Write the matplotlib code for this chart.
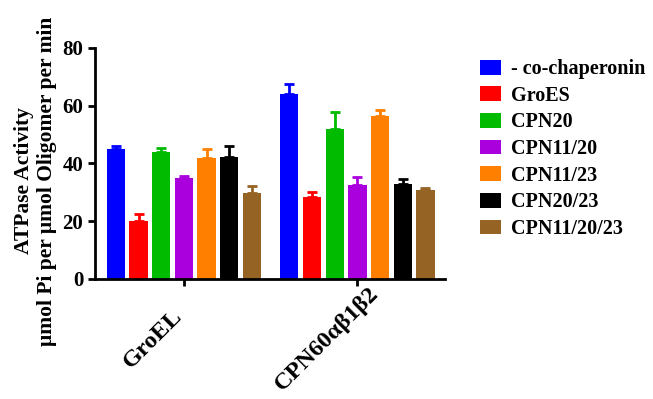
import matplotlib
matplotlib.use("Agg")
import matplotlib.pyplot as plt
import matplotlib.transforms as mtransforms
import numpy as np

plt.rcParams['font.family'] = ['Liberation Serif', 'DejaVu Serif']
plt.rcParams['font.weight'] = 'bold'
plt.rcParams['axes.labelweight'] = 'bold'

groups = ['GroEL', 'CPN60αβ1β2']
series = ['- co-chaperonin', 'GroES', 'CPN20', 'CPN11/20', 'CPN11/23', 'CPN20/23', 'CPN11/20/23']
colors = ['#0000ff', '#ff0000', '#00bb00', '#aa00dd', '#ff8000', '#000000', '#956323']
groel = [44.9, 20.1, 44.0, 35.1, 41.8, 42.2, 29.7]
groel_err = [1.1, 2.3, 1.2, 0.4, 3.2, 3.9, 2.4]
cpn60 = [64.2, 28.5, 52.1, 32.5, 56.6, 32.9, 30.8]
cpn60_err = [3.3, 1.5, 5.8, 2.9, 1.8, 1.6, 0.8]

values = np.array([groel, cpn60])
errors = np.array([groel_err, cpn60_err])

fig = plt.figure(figsize=(6.53, 3.99), dpi=100)
ax = fig.add_axes([0.1455, 0.3008, 0.5355, 0.579])

x = np.arange(len(groups))
step = 0.1307
width = 0.105
for i, (name, c) in enumerate(zip(series, colors)):
    pos = x + (i - 3) * step
    ax.bar(pos, values[:, i], width, color=c, label=name, zorder=2)
    ax.errorbar(pos, values[:, i], yerr=[np.zeros(2), errors[:, i]], fmt='none',
                ecolor=c, elinewidth=2, capsize=3.5, capthick=2, zorder=1)

ax.set_xlim(-0.512, 1.503)
ax.set_ylim(0, 80)
ax.set_yticks([0, 20, 40, 60, 80])
ax.set_xticks(x)
ax.tick_params(axis='y', labelsize=15, width=2, length=5)
ax.tick_params(axis='x', width=2, length=5)
ax.set_xticklabels(groups, rotation=45, ha='center', va='center',
                   rotation_mode='anchor', fontsize=17.5)
# labels are centred below-left of each tick
shift = mtransforms.ScaledTranslation(-22 / 72, -35 / 72, fig.dpi_scale_trans)
for lab in ax.get_xticklabels():
    lab.set_transform(lab.get_transform() + shift)

for s in ['top', 'right']:
    ax.spines[s].set_visible(False)
for s in ['left', 'bottom']:
    ax.spines[s].set_linewidth(2)
ax.set_ylabel('ATPase Activity\nμmol Pi per μmol Oligomer per min', fontsize=15.5,
              fontweight='bold', linespacing=1.2)
ax.yaxis.set_label_coords(-0.108, 0.424)

ax.legend(loc='upper left', bbox_to_anchor=(1.05, 1.03), frameon=False, fontsize=14.5,
          handlelength=1.05, handleheight=0.75, labelspacing=0.33, handletextpad=0.45)

fig.savefig('out.png', dpi=100)
